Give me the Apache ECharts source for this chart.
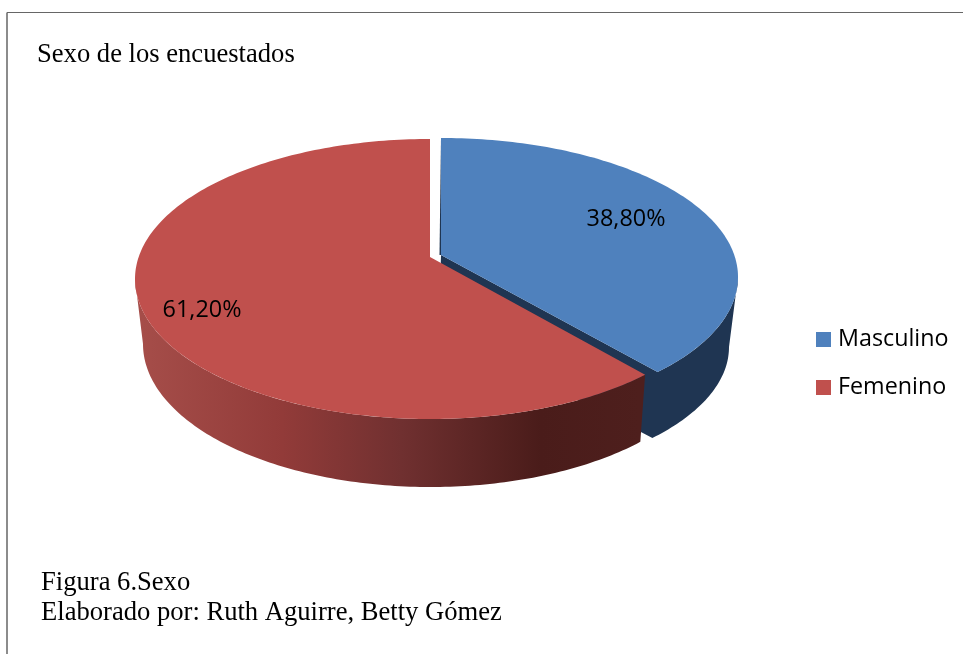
<!DOCTYPE html>
<html>
<head>
<meta charset="utf-8">
<style>html,body{margin:0;padding:0;background:#fff}#c{width:963px;height:654px}</style>
<script src="https://cdn.jsdelivr.net/npm/echarts@6/dist/echarts.min.js"></script>
</head>
<body>
<div id="c"></div>
<script>
var categories = ['Masculino', 'Femenino'];
var percentages = [38.80, 61.20];
var titleText = 'Sexo de los encuestados';
var captionLines = ['Figura 6.Sexo', 'Elaborado por: Ruth Aguirre, Betty Gómez'];

var DEG = Math.PI / 180;
var total = percentages[0] + percentages[1];
// Perspective: a true disc angle (from 12 o'clock, clockwise) to the drawn ellipse parameter
function persp(a) {
  var n = Math.floor(a / 360);
  var r = a - n * 360;
  if (r === 180) return n * 360 + 180;
  var h = r / 2 * DEG;
  var t = 2 * Math.atan(0.848 * Math.tan(h)) / DEG;
  if (r > 180) t += 360;
  return n * 360 + t;
}
function ell(e, t) {
  return [e.cx + e.rx * Math.sin(t * DEG), e.cy - e.ry * Math.cos(t * DEG)];
}
function arc(e, t0, t1) {
  var pts = [], n = Math.max(2, Math.ceil(Math.abs(t1 - t0)));
  for (var i = 0; i <= n; i++) pts.push(ell(e, t0 + (t1 - t0) * i / n));
  return pts;
}
var layouts = [
  { top: {cx: 441, cy: 277, rx: 297, ry: 139}, bottom: {cx: 446, cy: 347, rx: 283, ry: 133},
    apex: [441, 255], apexLow: [439, 326], color: '#4f81bd', wall: '#1f3552',
    label: [0.757, 55.4] },
  { top: {cx: 430, cy: 279, rx: 295, ry: 140}, bottom: {cx: 430.6, cy: 344, rx: 287.6, ry: 143},
    apex: [430, 257], apexLow: [430, 320], color: '#c0504d',
    wall: { type: 'linear', x: 143, y: 0, x2: 640, y2: 0, global: true, colorStops: [
      {offset: 0, color: '#a54d49'}, {offset: 0.28, color: '#923b39'},
      {offset: 0.52, color: '#703030'}, {offset: 0.80, color: '#4a1c1a'}, {offset: 1, color: '#4e1f1d'}
    ] },
    label: [0.80, 255] }
];

function sliceRenderer(idx) {
  return function (params, api) {
    var before = 0;
    for (var i = 0; i < idx; i++) before += percentages[i];
    var value = api.value(0);
    var a0 = before / total * 360, a1 = (before + value) / total * 360;
    var t0 = persp(a0), t1 = persp(a1);
    var L = layouts[idx], kids = [];
    var w0 = Math.max(t0, 90), w1 = Math.min(t1, 270);
    if (idx === 0) {
      // outer wall joined to the forward-looking cut face
      kids.push({ type: 'polygon', silent: true,
        shape: { points: [L.apex].concat(arc(L.top, w1, w0), arc(L.bottom, w0, w1), [L.apexLow]) },
        style: { fill: L.wall } });
      kids.push({ type: 'polygon', silent: true,
        shape: { points: [ell(L.top, t0), L.apex, [L.apex[0] - 1.5, L.apex[1]]] },
        style: { fill: L.wall } });
    } else {
      kids.push({ type: 'polygon', silent: true,
        shape: { points: arc(L.top, w0, w1).concat(arc(L.bottom, w1, w0)) },
        style: { fill: L.wall } });
    }
    // top surface
    kids.push({ type: 'polygon', silent: true,
      shape: { points: [L.apex].concat(arc(L.top, t0, t1)) },
      style: { fill: L.color } });
    // value label
    var lp = ell({cx: L.top.cx, cy: L.top.cy, rx: L.top.rx * L.label[0], ry: L.top.ry * L.label[0]}, L.label[1]);
    kids.push({ type: 'text', silent: true, x: lp[0], y: lp[1] + 2,
      style: { text: value.toFixed(2).replace('.', ',') + '%', fill: '#000',
        font: '23.4px "Open Sans"', align: 'center', verticalAlign: 'middle' } });
    return { type: 'group', children: kids };
  };
}

var serifFont = '"Liberation Serif"';
var option = {
  animation: false,
  backgroundColor: '#fff',
  legend: {
    orient: 'vertical', left: 811, top: 323, itemWidth: 15, itemHeight: 15, itemGap: 25,
    icon: 'rect', data: categories, selectedMode: false,
    textStyle: { fontFamily: 'Open Sans', fontSize: 23.3, color: '#000', padding: [0, 0, 0, 2] }
  },
  graphic: [
    { type: 'line', silent: true, shape: {x1: 7, y1: 12.5, x2: 963, y2: 12.5}, style: {stroke: '#666', lineWidth: 1} },
    { type: 'line', silent: true, shape: {x1: 7, y1: 12.5, x2: 7, y2: 654}, style: {stroke: '#666', lineWidth: 1.5} },
    { type: 'text', silent: true, left: 37, top: 42, style: { text: titleText, fill: '#000', font: '26.6px ' + serifFont } },
    { type: 'text', silent: true, left: 41, top: 570, style: { text: captionLines[0], fill: '#000', font: '26.6px ' + serifFont } },
    { type: 'text', silent: true, left: 41, top: 600, style: { text: captionLines[1], fill: '#000', font: '26.6px ' + serifFont } }
  ],
  series: categories.map(function (name, i) {
    return {
      type: 'custom', name: name, coordinateSystem: 'none',
      itemStyle: { color: layouts[i].color },
      renderItem: sliceRenderer(i),
      data: [[percentages[i]]]
    };
  })
};
echarts.init(document.getElementById('c'), null, {renderer: 'canvas'}).setOption(option);
</script>
</body>
</html>
